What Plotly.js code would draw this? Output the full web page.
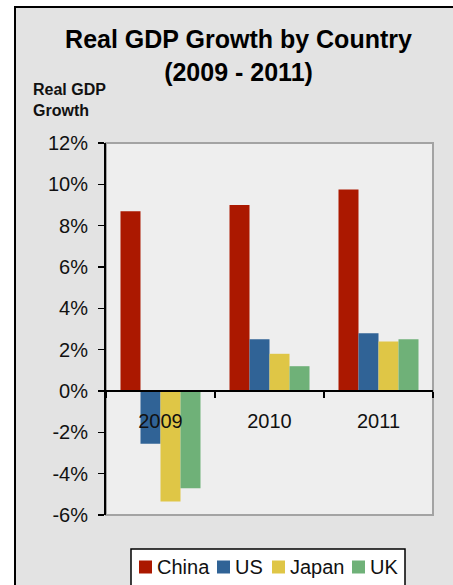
<!DOCTYPE html>
<html>
<head>
<meta charset="utf-8">
<script src="https://cdn.plot.ly/plotly-3.0.1.min.js"></script>
<style>
  html, body { margin: 0; padding: 0; background: #ffffff; }
  #chart { width: 453px; height: 585px; }
</style>
</head>
<body>
<div id="chart"></div>
<script>
// ---- data ----
const years = ['2009', '2010', '2011'];
const countries = ['China', 'US', 'Japan', 'UK'];
const china = [8.7, 9.0, 9.75];
const us = [-2.55, 2.5, 2.8];
const japan = [-5.35, 1.8, 2.4];
const uk = [-4.7, 1.2, 2.5];
const yTickVals = [-6, -4, -2, 0, 2, 4, 6, 8, 10, 12];
const yTickText = ['-6%', '-4%', '-2%', '0%', '2%', '4%', '6%', '8%', '10%', '12%'];

// ---- styles ----
const seriesValues = [china, us, japan, uk];
const seriesColors = ['#ab1800', '#306396', '#dfc646', '#6fb178'];
const FONT = '"Liberation Sans", Arial, sans-serif';
const TEXT = '#111111';

// plot area in pixels
const L = 106, T = 143, W = 327, H = 372, FW = 453, FH = 585;
const px2x = p => (p - L) / W;
const py2y = p => (T + H - p) / H;

const yRange = [yTickVals[0], yTickVals[yTickVals.length - 1]];
const zeroPos = (0 - yRange[0]) / (yRange[1] - yRange[0]);

const traces = countries.map((name, i) => ({
  type: 'bar',
  name: name,
  x: years,
  y: seriesValues[i],
  marker: { color: seriesColors[i], line: { width: 0 } },
  showlegend: false,
  hoverinfo: 'x+y+name'
}));

const shapes = [
  // white outside of the chart frame
  { type: 'rect', xref: 'paper', yref: 'paper', x0: px2x(-5), x1: px2x(14), y0: py2y(FH + 10), y1: py2y(-5),
    fillcolor: '#ffffff', line: { width: 0 }, layer: 'below' },
  { type: 'rect', xref: 'paper', yref: 'paper', x0: px2x(-5), x1: px2x(FW + 10), y0: py2y(6), y1: py2y(-5),
    fillcolor: '#ffffff', line: { width: 0 }, layer: 'below' },
  // chart frame lines
  { type: 'line', xref: 'paper', yref: 'paper', x0: px2x(15), x1: px2x(15), y0: py2y(6), y1: py2y(FH + 10),
    line: { color: '#000000', width: 2 }, layer: 'below' },
  { type: 'line', xref: 'paper', yref: 'paper', x0: px2x(14), x1: px2x(FW + 10), y0: py2y(7), y1: py2y(7),
    line: { color: '#000000', width: 2 }, layer: 'below' },
  // plot-area border
  { type: 'rect', xref: 'paper', yref: 'paper', x0: 0, x1: 1, y0: 0, y1: 1,
    line: { color: '#a3a3a3', width: 2 }, layer: 'below' },
  // legend box
  { type: 'rect', xref: 'paper', yref: 'paper', x0: px2x(131), x1: px2x(405), y0: py2y(620), y1: py2y(549),
    fillcolor: '#ffffff', line: { color: '#000000', width: 1.5 }, layer: 'above' }
];

const legendSquareX = [139, 217, 272, 352];
const legendY = 567;
const annotations = [
  { xref: 'paper', yref: 'paper', x: px2x(31), y: py2y(100), xanchor: 'left', yanchor: 'middle',
    align: 'left', showarrow: false, text: '<b>Real GDP<br>Growth</b>',
    font: { family: FONT, size: 16, color: TEXT } }
];
countries.forEach((name, i) => {
  shapes.push({ type: 'rect', xref: 'paper', yref: 'paper',
    x0: px2x(legendSquareX[i]), x1: px2x(legendSquareX[i] + 13),
    y0: py2y(legendY + 6.5), y1: py2y(legendY - 6.5),
    fillcolor: seriesColors[i], line: { width: 0 }, layer: 'above' });
  annotations.push({ xref: 'paper', yref: 'paper', x: px2x(legendSquareX[i] + 16), y: py2y(legendY),
    xanchor: 'left', yanchor: 'middle', showarrow: false, text: name,
    font: { family: FONT, size: 20, color: TEXT } });
});

const layout = {
  width: FW, height: FH,
  margin: { l: L, r: FW - L - W, t: T, b: FH - T - H, pad: 0 },
  paper_bgcolor: '#e3e3e3',
  plot_bgcolor: '#eeeeee',
  font: { family: FONT, color: TEXT },
  title: {
    text: '<b>Real GDP Growth by Country<br>(2009 - 2011)</b>',
    xref: 'container', yref: 'container',
    x: 238.5 / FW, xanchor: 'center',
    y: 1 - 48 / FH, yanchor: 'top',
    font: { family: FONT, size: 25, color: '#000000' }
  },
  showlegend: false,
  barmode: 'group',
  bargap: 0.266,
  bargroupgap: 0,
  xaxis: {
    type: 'category',
    anchor: 'free', position: zeroPos,
    showline: true, linecolor: '#000000', linewidth: 2,
    ticks: 'outside', tickson: 'boundaries', ticklen: 6, tickwidth: 1.5, tickcolor: '#000000',
    ticklabelstandoff: 12,
    showgrid: false, zeroline: false,
    tickfont: { family: FONT, size: 20, color: TEXT },
    fixedrange: true
  },
  yaxis: {
    range: yRange,
    tickmode: 'array', tickvals: yTickVals, ticktext: yTickText,
    showline: true, linecolor: '#000000', linewidth: 2,
    ticks: 'outside', ticklen: 6, tickwidth: 1.5, tickcolor: '#000000',
    ticklabelstandoff: 6,
    showgrid: false, zeroline: false,
    tickfont: { family: FONT, size: 20, color: TEXT },
    fixedrange: true
  },
  shapes: shapes,
  annotations: annotations
};

Plotly.newPlot('chart', traces, layout, { displayModeBar: false, staticPlot: true });
</script>
</body>
</html>
